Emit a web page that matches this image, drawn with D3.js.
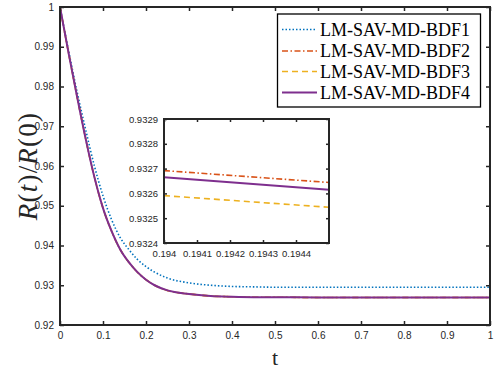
<!DOCTYPE html>
<html>
<head>
<meta charset="utf-8">
<script src="https://cdn.jsdelivr.net/npm/d3@7"></script>
<style>
  body { margin: 0; background: #fff; }
  svg { display: block; }
</style>
</head>
<body>
<div id="chart"></div>
<script>
// main plot samples
const tMain = [0, 0.02, 0.04, 0.06, 0.08, 0.10, 0.12, 0.14, 0.16, 0.18, 0.20, 0.22, 0.25, 0.30, 0.35, 0.40, 0.45, 0.50, 0.60, 0.70, 0.80, 0.90, 1.00];
const bdf1 = [1.0, 0.9890, 0.9785, 0.9690, 0.9600, 0.9525, 0.9465, 0.9420, 0.9390, 0.9365, 0.9347, 0.9333, 0.9318, 0.9306, 0.9300, 0.9297, 0.9296, 0.9295, 0.9295, 0.9295, 0.9295, 0.9295, 0.9295];
const bdf2 = [1.0, 0.9884, 0.9773, 0.9667, 0.9572, 0.9494, 0.9436, 0.9390, 0.9358, 0.9333, 0.9314, 0.9300, 0.9287, 0.9278, 0.9273, 0.9271, 0.9270, 0.9270, 0.9269, 0.9269, 0.9269, 0.9269, 0.9269];
const bdf3 = [1.0, 0.9884, 0.9773, 0.9667, 0.9572, 0.9494, 0.9436, 0.9390, 0.9358, 0.9333, 0.9314, 0.9300, 0.9287, 0.9278, 0.9273, 0.9271, 0.9270, 0.9270, 0.9269, 0.9269, 0.9269, 0.9269, 0.9269];
const bdf4 = [1.0, 0.9884, 0.9773, 0.9667, 0.9572, 0.9494, 0.9436, 0.9390, 0.9358, 0.9333, 0.9314, 0.9300, 0.9287, 0.9278, 0.9273, 0.9271, 0.9270, 0.9270, 0.9269, 0.9269, 0.9269, 0.9269, 0.9269];

// zoomed inset samples
const tInset = [0.194, 0.1945];
const inset2 = [0.932692, 0.932644];
const inset3 = [0.932591, 0.932544];
const inset4 = [0.932665, 0.932615];

const names = ["LM-SAV-MD-BDF1", "LM-SAV-MD-BDF2", "LM-SAV-MD-BDF3", "LM-SAV-MD-BDF4"];
const xTicks = [0, 0.1, 0.2, 0.3, 0.4, 0.5, 0.6, 0.7, 0.8, 0.9, 1];
const yTicks = [0.92, 0.93, 0.94, 0.95, 0.96, 0.97, 0.98, 0.99, 1];
const xTicksInset = [0.194, 0.1941, 0.1942, 0.1943, 0.1944];
const yTicksInset = [0.9324, 0.9325, 0.9326, 0.9327, 0.9328, 0.9329];

const styles = [
    { color: "#0072BD", dash: "1.5,2", w: 1.6 },
    { color: "#D95319", dash: "6,2.5,1.5,2.5", w: 1.6 },
    { color: "#EDB120", dash: "6,4", w: 1.6 },
    { color: "#7E2F8E", dash: null, w: 2 }
];

const W = 498, H = 374;
const axisColor = "#262626";

const svg = d3.select("#chart").append("svg")
    .attr("width", W)
    .attr("height", H);

// main axes
const x = d3.scaleLinear().domain([0, 1]).range([60, 490]);
const y = d3.scaleLinear().domain([0.92, 1]).range([325, 7]);

const series = [bdf1, bdf2, bdf3, bdf4];

const line = d3.line()
    .x(d => x(d[0]))
    .y(d => y(d[1]))
    .curve(d3.curveMonotoneX);

const plot = svg.append("g");
plot.append("clipPath").attr("id", "clipMain")
    .append("rect").attr("x", 60).attr("y", 7).attr("width", 430).attr("height", 318);

series.forEach((s, i) => {
    plot.append("path")
        .datum(tMain.map((t, j) => [t, s[j]]))
        .attr("clip-path", "url(#clipMain)")
        .attr("fill", "none")
        .attr("stroke", styles[i].color)
        .attr("stroke-width", styles[i].w)
        .attr("stroke-dasharray", styles[i].dash)
        .attr("d", line);
});

function drawAxes(g, xs, ys, xt, yt, xfmt, yfmt, fontSize, tick) {
    const [x0, x1] = xs.range();
    const [y0, y1] = ys.range();

    g.append("g")
        .attr("transform", "translate(0," + y0 + ")")
        .call(d3.axisBottom(xs).tickValues(xt).tickSize(-tick).tickPadding(7).tickFormat(xfmt));
    g.append("g")
        .attr("transform", "translate(0," + y1 + ")")
        .call(d3.axisTop(xs).tickValues(xt).tickSize(-tick).tickFormat(""));
    g.append("g")
        .attr("transform", "translate(" + x0 + ",0)")
        .call(d3.axisLeft(ys).tickValues(yt).tickSize(-tick).tickPadding(6).tickFormat(yfmt));
    g.append("g")
        .attr("transform", "translate(" + x1 + ",0)")
        .call(d3.axisRight(ys).tickValues(yt).tickSize(-tick).tickFormat(""));

    g.selectAll(".domain").remove();
    g.selectAll(".tick line").attr("stroke", axisColor).attr("stroke-width", 1.5);
    g.selectAll(".tick text")
        .attr("fill", axisColor)
        .style("font-family", "'Liberation Sans', Arial, sans-serif")
        .style("font-size", fontSize + "px");

    g.append("rect")
        .attr("x", x0).attr("y", y1)
        .attr("width", x1 - x0).attr("height", y0 - y1)
        .attr("fill", "none")
        .attr("stroke", axisColor)
        .attr("stroke-width", 2);
}

drawAxes(svg.append("g"), x, y, xTicks, yTicks, d3.format("~g"), d3.format("~g"), 10, 4);

// axis labels
svg.append("text")
    .attr("x", 275)
    .attr("y", 365)
    .attr("text-anchor", "middle")
    .style("font-family", "'Liberation Serif', 'DejaVu Serif', serif")
    .style("font-size", "22px")
    .attr("fill", axisColor)
    .text("t");

const ylab = svg.append("text")
    .attr("transform", "translate(37,166) rotate(-90)")
    .attr("text-anchor", "middle")
    .style("font-family", "'Liberation Serif', 'DejaVu Serif', serif")
    .style("font-size", "27px")
    .style("letter-spacing", "1.2px")
    .attr("fill", axisColor);
[["R", true], ["(", false], ["t", true], [")/", false], ["R", true], ["(0)", false]].forEach(p => {
    ylab.append("tspan").style("font-style", p[1] ? "italic" : "normal").text(p[0]);
});

// inset
const xi = d3.scaleLinear().domain([0.194, 0.1945]).range([164, 329]);
const yi = d3.scaleLinear().domain([0.9324, 0.9329]).range([243, 119]);

const inset = svg.append("g");
inset.append("rect")
    .attr("x", 164).attr("y", 119).attr("width", 165).attr("height", 124)
    .attr("fill", "#fff");

const lineInset = d3.line()
    .x(d => xi(d[0]))
    .y(d => yi(d[1]));

[[inset2, 1], [inset3, 2], [inset4, 3]].forEach(([s, i]) => {
    inset.append("path")
        .datum(tInset.map((t, j) => [t, s[j]]))
        .attr("fill", "none")
        .attr("stroke", styles[i].color)
        .attr("stroke-width", styles[i].w)
        .attr("stroke-dasharray", styles[i].dash)
        .attr("d", lineInset);
});

drawAxes(inset, xi, yi, xTicksInset, yTicksInset, d3.format("~g"), d3.format(".4f"), 9.5, 3);

// legend
const legend = svg.append("g");
legend.append("rect")
    .attr("x", 277.5).attr("y", 14)
    .attr("width", 203).attr("height", 93)
    .attr("fill", "#fff")
    .attr("stroke", "#000")
    .attr("stroke-width", 1.3);

const rowY = [29.5, 51, 71.5, 92.5];
names.forEach((n, i) => {
    legend.append("line")
        .attr("x1", 282).attr("x2", 317)
        .attr("y1", rowY[i]).attr("y2", rowY[i])
        .attr("stroke", styles[i].color)
        .attr("stroke-width", styles[i].w)
        .attr("stroke-dasharray", styles[i].dash);
    legend.append("text")
        .attr("x", 320)
        .attr("y", rowY[i] + 6)
        .style("font-family", "'Liberation Serif', 'DejaVu Serif', serif")
        .style("font-size", "18px")
        .attr("fill", "#000")
        .text(n);
});
</script>
</body>
</html>
